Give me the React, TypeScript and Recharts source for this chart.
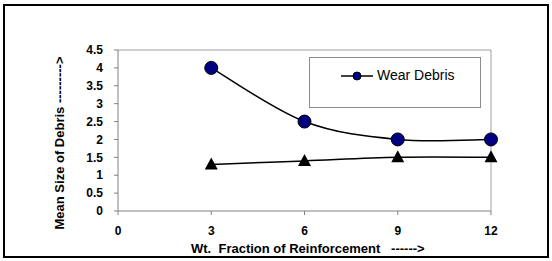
import React from 'react'
import {
  LineChart,
  Line,
  XAxis,
  YAxis,
  Legend,
  ReferenceLine,
} from 'recharts'

// values
const fractions = [3, 6, 9, 12]
const wearDebris = [4, 2.5, 2, 2]
const otherDebris = [1.3, 1.4, 1.5, 1.5]
const xTicks = [0, 3, 6, 9, 12]
const yTicks = [0, 0.5, 1, 1.5, 2, 2.5, 3, 3.5, 4, 4.5]

const data = fractions.map((f, i) => ({
  fraction: f,
  wear: wearDebris[i],
  other: otherDebris[i],
}))

const FONT = "Arial, 'Liberation Sans', sans-serif"

// Excel-like smoothed line (Catmull-Rom as cubic beziers)
function excelSmooth(context: any) {
  let pts: number[][] = []
  return {
    areaStart() {},
    areaEnd() {},
    lineStart() {
      pts = []
    },
    lineEnd() {
      if (!pts.length) return
      context.moveTo(pts[0][0], pts[0][1])
      for (let i = 0; i < pts.length - 1; i++) {
        const p0 = pts[i - 1] || pts[i]
        const p1 = pts[i]
        const p2 = pts[i + 1]
        const p3 = pts[i + 2] || p2
        context.bezierCurveTo(
          p1[0] + (p2[0] - p0[0]) / 6,
          p1[1] + (p2[1] - p0[1]) / 6,
          p2[0] - (p3[0] - p1[0]) / 6,
          p2[1] - (p3[1] - p1[1]) / 6,
          p2[0],
          p2[1]
        )
      }
    },
    point(x: number, y: number) {
      pts.push([+x, +y])
    },
  }
}

const Triangle = (props: any) => {
  const { cx, cy } = props
  if (cx == null || cy == null) return null
  return (
    <polygon
      points={`${cx},${cy - 7} ${cx - 6.5},${cy + 5} ${cx + 6.5},${cy + 5}`}
      fill="#000"
    />
  )
}

const LegendBox = () => (
  <div
    style={{
      width: 170,
      height: 49,
      border: '1px solid #8c8c8c',
      background: '#fff',
      position: 'relative',
      fontFamily: FONT,
    }}
  >
    <svg width={40} height={20} style={{ position: 'absolute', left: 30, top: 8 }}>
      <line x1={1} y1={10} x2={33} y2={10} stroke="#000" strokeWidth={1.5} />
      <circle cx={17} cy={10} r={4} fill="#000080" stroke="#000" strokeWidth={1} />
    </svg>
    <span
      style={{
        position: 'absolute',
        left: 67,
        top: 9,
        fontSize: 14,
        lineHeight: '16px',
        color: '#000',
      }}
    >
      Wear Debris
    </span>
  </div>
)

export default function App() {
  return (
    <div style={{ position: 'absolute', left: 0, top: 0, width: 552, height: 261, background: '#fff' }}>
      <div
        style={{
          position: 'absolute',
          left: 3,
          top: 4,
          width: 542,
          height: 250,
          border: '2px solid #000',
        }}
      />
      <LineChart
        width={552}
        height={261}
        data={data}
        margin={{ top: 50, right: 61, bottom: 20, left: 58 }}
        style={{ position: 'absolute', left: 0, top: 0 }}
      >
        <XAxis
          dataKey="fraction"
          type="number"
          domain={[0, 12]}
          ticks={xTicks}
          interval={0}
          height={30}
          stroke="#808080"
          tickSize={4}
          tickMargin={11}
          tick={{ fill: '#000', fontSize: 12, fontWeight: 'bold', fontFamily: FONT }}
          label={{
            content: (p: any) => {
              const vb = p.viewBox
              return (
                <text
                  x={vb.x + 191 - 118}
                  y={vb.y + 42}
                  fontSize={13}
                  fontWeight="bold"
                  fontFamily={FONT}
                  fill="#000"
                  style={{ whiteSpace: 'pre' }}
                >
                  {'Wt.  Fraction of Reinforcement   ------>'}
                </text>
              )
            },
          }}
        />
        <YAxis
          type="number"
          domain={[0, 4.5]}
          ticks={yTicks}
          interval={0}
          width={60}
          stroke="#808080"
          tickSize={4}
          tickMargin={11}
          tick={{ fill: '#000', fontSize: 12, fontWeight: 'bold', fontFamily: FONT }}
          label={{
            content: (p: any) => {
              const vb = p.viewBox
              const cx = vb.x + 1
              const cy = 143
              return (
                <text
                  x={cx}
                  y={cy}
                  transform={`rotate(-90, ${cx}, ${cy})`}
                  textAnchor="middle"
                  dominantBaseline="central"
                  fontSize={13}
                  fontWeight="bold"
                  fontFamily={FONT}
                  fill="#000"
                >
                  Mean Size of Debris ---------&gt;
                </text>
              )
            },
          }}
        />
        <ReferenceLine y={4.5} stroke="#a0a0a0" />
        <ReferenceLine x={12} stroke="#a0a0a0" />
        <Legend
          layout="horizontal"
          verticalAlign="middle"
          align="center"
          wrapperStyle={{ left: 309, top: 57, width: 172, height: 51 }}
          content={() => <LegendBox />}
        />
        <Line
          dataKey="wear"
          name="Wear Debris"
          type={excelSmooth as any}
          stroke="#000"
          strokeWidth={1.5}
          dot={{ r: 6.5, fill: '#000080', stroke: '#000', strokeWidth: 1 }}
          isAnimationActive={false}
        />
        <Line
          dataKey="other"
          legendType="none"
          type={excelSmooth as any}
          stroke="#000"
          strokeWidth={1.5}
          dot={<Triangle />}
          isAnimationActive={false}
        />
      </LineChart>
    </div>
  )
}
